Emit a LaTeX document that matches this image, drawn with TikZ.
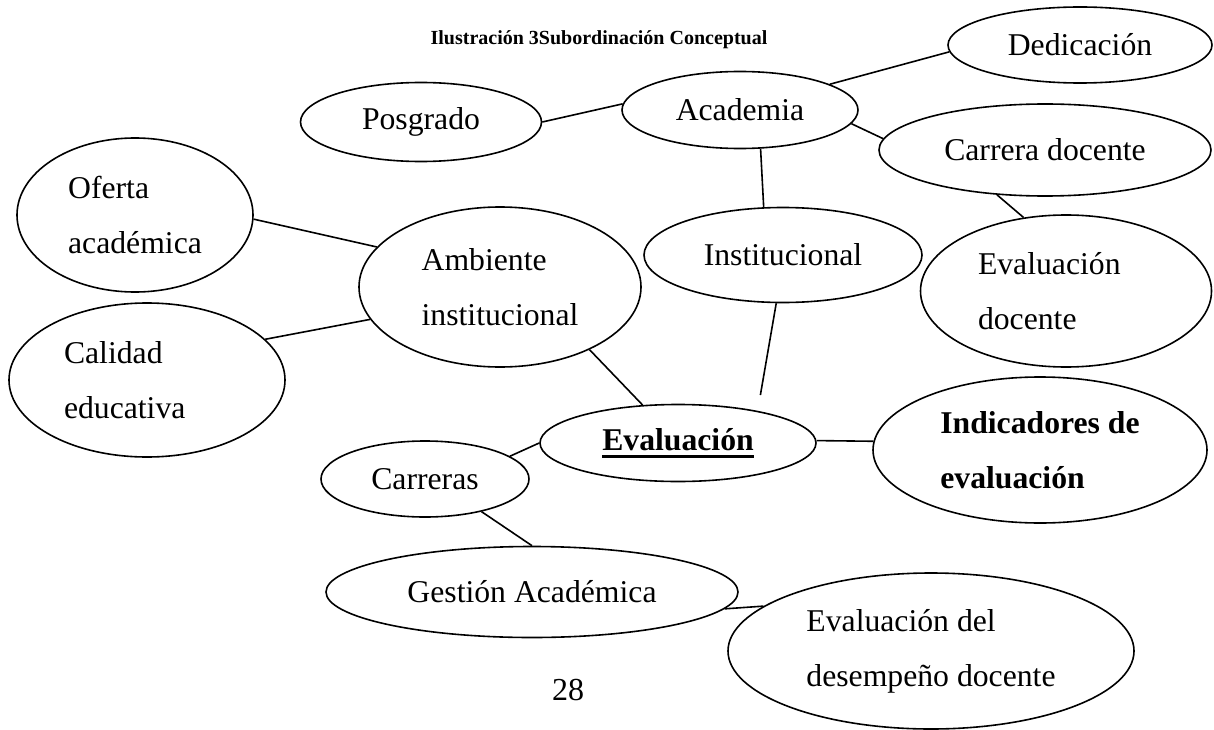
\documentclass[tikz,border=0pt]{standalone}
\usepackage{fontspec}
\setmainfont{Liberation Serif}
\newcommand\myul[1]{\setbox0\hbox{#1}\rlap{\rule[-7pt]{\wd0}{3pt}}\box0}
\tikzset{
  bub/.style={draw, ellipse, line width=1.6pt, inner sep=0pt, align=left,
              font=\fontsize{31.7}{55}\selectfont},
  link/.style={line width=1.6pt},
  plain/.style={inner sep=0pt}
}
\usetikzlibrary{shapes.geometric}
\begin{document}
\begin{tikzpicture}[x=1pt,y=-1pt]
\useasboundingbox (0,0) rectangle (1214,730);
% title
\node[plain, font=\fontsize{20}{24}\selectfont\bfseries] (title) at (599,40) {Ilustración 3Subordinación Conceptual};
% ellipses
\node[bub, minimum width=264pt, minimum height=76pt] (ded) at (1080,45) {Dedicación};
\node[bub, minimum width=241pt, minimum height=79pt] (pos) at (421,122) {Posgrado};
\node[bub, minimum width=236pt, minimum height=77pt] (aca) at (740,110) {Academia};
\node[bub, minimum width=332pt, minimum height=92pt] (car) at (1045,150) {Carrera docente};
\node[bub, minimum width=236pt, minimum height=154pt] (ofe) at (135,215) {Oferta\\académica};
\node[bub, minimum width=282pt, minimum height=160pt] (amb) at (500,287) {Ambiente\\institucional};
\node[bub, minimum width=278pt, minimum height=95pt] (ins) at (783,255) {Institucional};
\node[bub, minimum width=291pt, minimum height=152pt, text width=176pt] (evd) at (1066,291) {Evaluación\\docente};
\node[bub, minimum width=276pt, minimum height=154pt, text width=166pt] (cal) at (147,380) {Calidad\\educativa};
\node[bub, minimum width=276pt, minimum height=77pt, font=\fontsize{31.7}{55}\selectfont\bfseries] (eva) at (678,443) {\myul{Evaluación}};
\node[bub, minimum width=334pt, minimum height=146pt, font=\fontsize{31.7}{55}\selectfont\bfseries] (ind) at (1040,450) {Indicadores de\\evaluación};
\node[bub, minimum width=208pt, minimum height=76pt] (crr) at (425,479) {Carreras};
\node[bub, minimum width=412pt, minimum height=91pt] (ges) at (532,592) {Gestión Académica};
\node[bub, minimum width=406pt, minimum height=156pt] (eds) at (931,651) {Evaluación del\\desempeño docente};
% page number
\node[plain, font=\fontsize{32}{36}\selectfont] (pg) at (568,690) {28};
% connectors
\draw[link] (pos.0) -- (aca.177);
\draw[link] (aca.16) -- (ded.-177);
\draw[link] (aca.-7) -- (car.176);
\draw[link] (aca.-62) -- (ins.112);
\draw[link] (car.-137) -- (evd.120);
\draw[link] (ofe.-2) -- (amb.162);
\draw[link] (cal.19) -- (amb.-166);
\draw[link] (amb.-35) -- (eva.133);
\draw[link, shorten >=16pt] (ins.-98) -- (eva.22);
\draw[link] (eva.1) -- (ind.177);
\draw[link] (crr.15) -- (eva.180);
\draw[link] (crr.-30) -- (ges.90);
\draw[link] (ges.-5) -- (eds.165);
\end{tikzpicture}
\end{document}
